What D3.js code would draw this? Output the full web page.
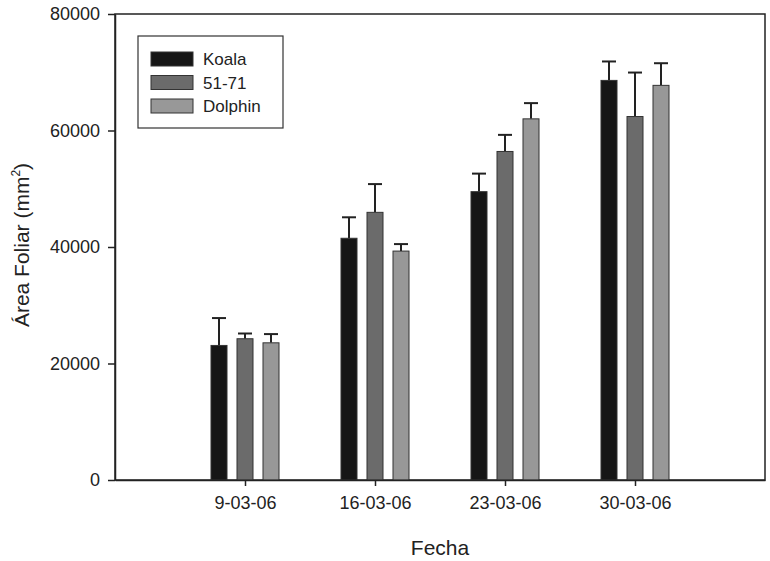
<!doctype html>
<html lang="es">
<head>
  <meta charset="UTF-8">
  <title>Área Foliar</title>
  <script src="https://cdnjs.cloudflare.com/ajax/libs/d3/7.8.5/d3.min.js"></script>
  <style>
  body { margin: 0; background: #fff; }
  text { font-family: "Liberation Sans", Arial, sans-serif; fill: #222; }
  </style>
</head>
<body>
<script>

var fechas = ["9-03-06", "16-03-06", "23-03-06", "30-03-06"];
var series = ["Koala", "51-71", "Dolphin"];
var colores = ["#161616", "#6b6b6b", "#989898"];

// means, and top of error bar, per serie
var medias = [
  [23100, 41500, 49500, 68600],   // Koala
  [24250, 45950, 56400, 62400],   // 51-71
  [23550, 39300, 62000, 67750]    // Dolphin
];
var errSup = [
  [27800, 45100, 52600, 71850],
  [25150, 50800, 59250, 69950],
  [25050, 40500, 64700, 71550]
];
var yTicks = [0, 20000, 40000, 60000, 80000];

var w = 770, h = 561;
var pLeft = 115, pRight = 765, pTop = 14, pBottom = 480;

var svg = d3.select('body').append('svg')
  .attr('width', w)
  .attr('height', h);

var x = d3.scalePoint().domain(fechas).range([pLeft, pRight]).padding(1);
var off = d3.scalePoint().domain(series).range([-26, 26]);
var y = d3.scaleLinear().domain([0, 80000]).range([pBottom, pTop]);
var bw = 16;

// frame
svg.append('rect')
  .attr('x', pLeft).attr('y', pTop)
  .attr('width', pRight - pLeft).attr('height', pBottom - pTop)
  .attr('fill', 'none').attr('stroke', '#222').attr('stroke-width', 1.5);

var data = [];
series.forEach(function(s, si) {
  fechas.forEach(function(f, fi) {
    data.push({ s: s, si: si, f: f, v: medias[si][fi], e: errSup[si][fi] });
  });
});

// error bars (up only)
var eb = svg.append('g').attr('stroke', '#222').attr('stroke-width', 2);
eb.selectAll('line.v').data(data).enter().append('line')
  .attr('class', 'v')
  .attr('x1', function(d) { return x(d.f) + off(d.s); })
  .attr('x2', function(d) { return x(d.f) + off(d.s); })
  .attr('y1', function(d) { return y(d.v); })
  .attr('y2', function(d) { return y(d.e); });
eb.selectAll('line.c').data(data).enter().append('line')
  .attr('class', 'c')
  .attr('x1', function(d) { return x(d.f) + off(d.s) - 7; })
  .attr('x2', function(d) { return x(d.f) + off(d.s) + 7; })
  .attr('y1', function(d) { return y(d.e); })
  .attr('y2', function(d) { return y(d.e); });

svg.selectAll('rect.bar').data(data).enter().append('rect')
  .attr('class', 'bar')
  .attr('x', function(d) { return x(d.f) + off(d.s) - bw / 2; })
  .attr('y', function(d) { return y(d.v); })
  .attr('width', bw)
  .attr('height', function(d) { return y(0) - y(d.v); })
  .attr('fill', function(d) { return colores[d.si]; })
  .attr('stroke', '#333')
  .attr('stroke-width', 1);

// axes
var ya = svg.append('g')
  .attr('transform', 'translate(' + pLeft + ',0)')
  .call(d3.axisLeft(y).tickValues(yTicks).tickSize(7).tickSizeOuter(0).tickPadding(8).tickFormat(d3.format('d')));
ya.select('.domain').attr('stroke', '#222').attr('stroke-width', 1.5);
ya.selectAll('.tick line').attr('stroke', '#222').attr('stroke-width', 1.5);
ya.selectAll('text').attr('font-size', '18px').attr('fill', '#222');

var xa = svg.append('g')
  .attr('transform', 'translate(0,' + pBottom + ')')
  .call(d3.axisBottom(x).tickSize(6).tickSizeOuter(0).tickPadding(10));
xa.select('.domain').attr('stroke', '#222').attr('stroke-width', 1.5);
xa.selectAll('.tick line').attr('stroke', '#222').attr('stroke-width', 1.5);
xa.selectAll('text').attr('font-size', '18px').attr('fill', '#222');

// axis titles
svg.append('text')
  .attr('x', 440).attr('y', 555)
  .attr('text-anchor', 'middle')
  .attr('font-size', '21px')
  .text('Fecha');

var yt = svg.append('text')
  .attr('transform', 'translate(29,245) rotate(-90)')
  .attr('text-anchor', 'middle')
  .attr('font-size', '21px');
yt.append('tspan').text('Área Foliar (mm');
yt.append('tspan').attr('font-size', '12px').attr('dy', '-9').text('2');
yt.append('tspan').attr('dy', '9').text(')');

// legend
var lg = svg.append('g');
lg.append('rect')
  .attr('x', 138).attr('y', 36).attr('width', 145).attr('height', 92)
  .attr('fill', '#fff').attr('stroke', '#333').attr('stroke-width', 1.2);
var ly = d3.scalePoint().domain(series).range([59, 106]);
lg.selectAll('rect.sw').data(series).enter().append('rect')
  .attr('class', 'sw')
  .attr('x', 151).attr('y', function(d) { return ly(d) - 7; })
  .attr('width', 42).attr('height', 14)
  .attr('fill', function(d, i) { return colores[i]; })
  .attr('stroke', '#333').attr('stroke-width', 1);
lg.selectAll('text').data(series).enter().append('text')
  .attr('x', 203).attr('y', function(d) { return ly(d) + 6; })
  .attr('font-size', '17px')
  .text(function(d) { return d; });

</script>
</body>
</html>
